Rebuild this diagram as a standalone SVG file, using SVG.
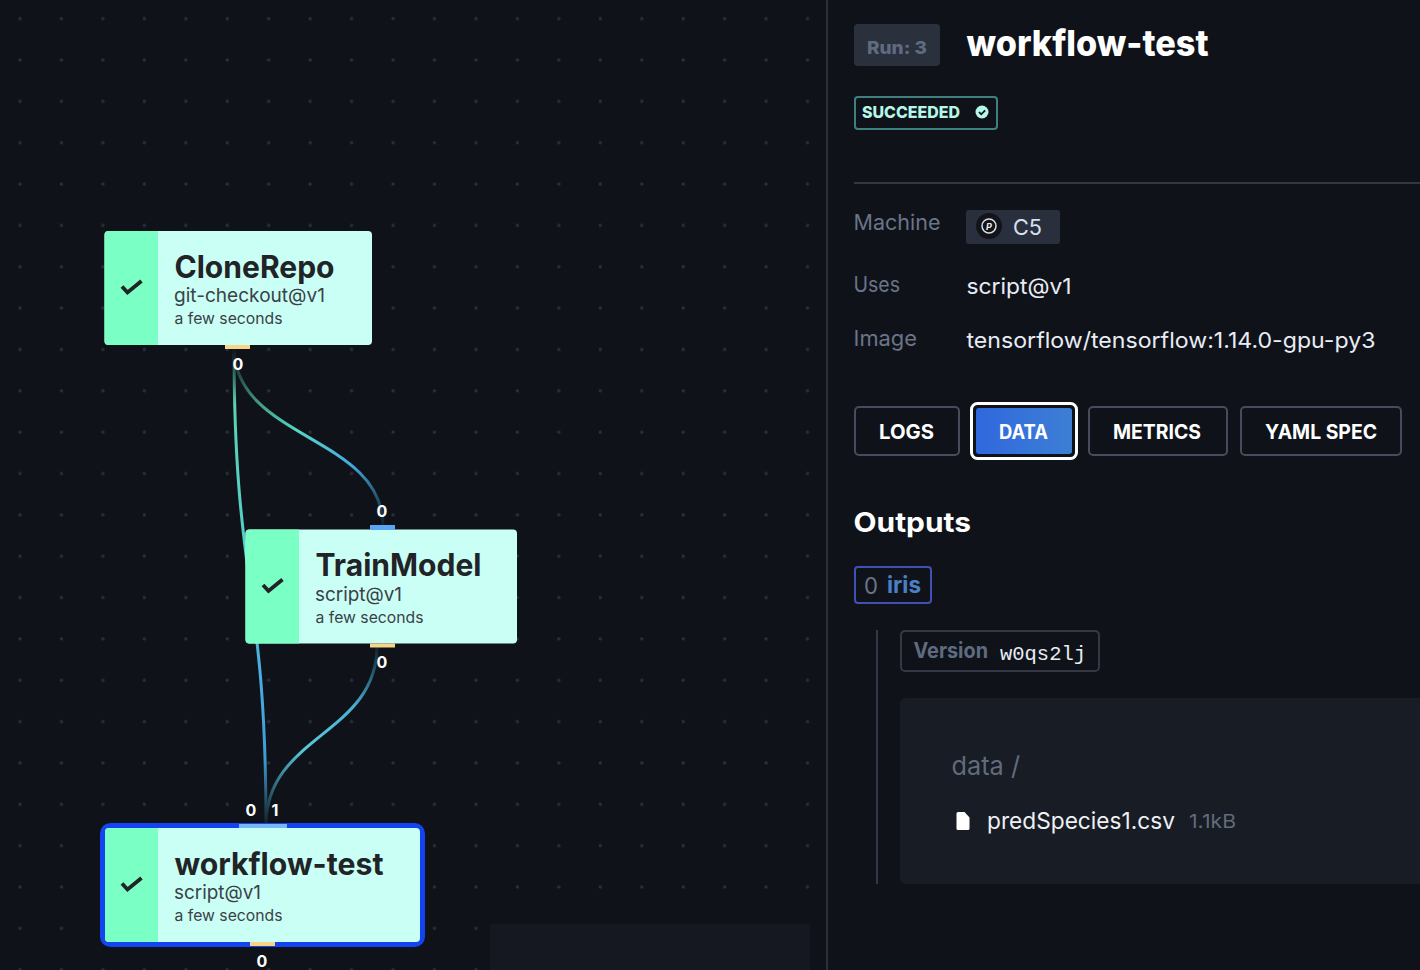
<svg xmlns="http://www.w3.org/2000/svg" width="1420" height="970" viewBox="0 0 1420 970">
<style>
text{font-family:"Inter","Liberation Sans",sans-serif}
.body{fill:#c9fff5}.band{fill:#7affc5}
.name{font-size:31px;font-weight:700;fill:#222326}
.uses{font-size:19px;fill:#3c4148}
.time{font-size:15.5px;fill:#3c4148}
.check{fill:none;stroke:#222326;stroke-width:3.8}
.port{font-size:16px;font-weight:700;fill:#fff;text-anchor:middle}
.out{fill:#f8d488}
.edge{fill:none;stroke-width:3}
.label{font-size:21px;fill:#6b7488}
.value{font-size:22px;fill:#e8ecf4}
.tab{fill:none;stroke:#474c5c;stroke-width:2}
.tabt{font-size:20px;font-weight:700;fill:#fff}
</style>
<defs>
<pattern id="dots" patternUnits="userSpaceOnUse" width="41.45" height="41.35"><circle cx="20" cy="18.7" r="1.6" fill="#2d303d"/></pattern>
<linearGradient id="e1" gradientUnits="userSpaceOnUse" x1="0" y1="347" x2="0" y2="825"><stop offset="0" stop-color="#0f1319"/><stop offset=".12" stop-color="#5ad2b4"/><stop offset=".4" stop-color="#55d0c8"/><stop offset=".7" stop-color="#49abe2"/><stop offset=".86" stop-color="#3f9bd4"/><stop offset="1" stop-color="#10202e"/></linearGradient>
<linearGradient id="e2" gradientUnits="userSpaceOnUse" x1="234" y1="347" x2="382" y2="526"><stop offset="0" stop-color="#0f1319"/><stop offset=".25" stop-color="#3f9a84"/><stop offset=".45" stop-color="#55d6c4"/><stop offset=".72" stop-color="#43a8e0"/><stop offset="1" stop-color="#10202e"/></linearGradient>
<linearGradient id="e3" gradientUnits="userSpaceOnUse" x1="377" y1="646" x2="266" y2="825"><stop offset="0" stop-color="#10202a"/><stop offset=".3" stop-color="#48b0d0"/><stop offset=".6" stop-color="#5ac8dc"/><stop offset="1" stop-color="#10202a"/></linearGradient>
<linearGradient id="blue" x1="0" y1="0" x2="1" y2="0"><stop offset="0" stop-color="#3068de"/><stop offset="1" stop-color="#3d7fd4"/></linearGradient>
</defs>
<rect width="1420" height="970" fill="#0f1319"/>
<rect width="827" height="970" fill="url(#dots)"/>
<rect x="490" y="924" width="320" height="46" fill="#151820"/>
<rect x="826" y="0" width="2" height="970" fill="#2c2f39"/>

<g id="connectors">
<path class="edge" stroke="url(#e1)" d="M234 347C234 586 266 586 266 825"/>
<path class="edge" stroke="url(#e2)" d="M234 347C234 440 383 435 383 526"/>
<path class="edge" stroke="url(#e3)" d="M377 646C377 735 266 735 266 825"/>
</g>

<g id="node-clonerepo">
<rect class="body" x="104.500" y="231" width="267.500" height="114" rx="4"/>
<path class="band" d="M108.500 231H158V345H108.500a4 4 0 0 1-4-4V235a4 4 0 0 1 4-4z"/>
<path class="check" d="M122 286.500l5.500 6 14-11.500"/>
<text class="name" x="174.500" y="278" textLength="160" lengthAdjust="spacingAndGlyphs">CloneRepo</text>
<text class="uses" x="174" y="301.500" textLength="151" lengthAdjust="spacingAndGlyphs">git-checkout@v1</text>
<text class="time" x="174.500" y="324" textLength="108" lengthAdjust="spacingAndGlyphs">a few seconds</text>
<rect class="out" x="225" y="345" width="25" height="4"/>
<text class="port" x="238" y="370">0</text>
</g>

<g id="node-trainmodel">
<rect class="body" x="245.500" y="529.500" width="271.500" height="114" rx="4"/>
<path class="band" d="M249.500 529.500H299V643.500H249.500a4 4 0 0 1-4-4V533.500a4 4 0 0 1 4-4z"/>
<path class="check" d="M263 585l5.500 6 14-11.500"/>
<text class="name" x="315.500" y="576" textLength="166" lengthAdjust="spacingAndGlyphs">TrainModel</text>
<text class="uses" x="315" y="601" textLength="87" lengthAdjust="spacingAndGlyphs">script@v1</text>
<text class="time" x="315.500" y="623" textLength="108" lengthAdjust="spacingAndGlyphs">a few seconds</text>
<rect x="370" y="525" width="25" height="5" fill="#5aa6f0"/>
<text class="port" x="382" y="517">0</text>
<rect class="out" x="370" y="643.500" width="25" height="4"/>
<text class="port" x="382" y="668">0</text>
</g>

<g id="node-workflow-test">
<rect x="102.500" y="825.500" width="320" height="119" rx="8" fill="none" stroke="#1444f2" stroke-width="5"/>
<rect class="body" x="105" y="828" width="315" height="114" rx="4"/>
<path class="band" d="M109 828H158V942H109a4 4 0 0 1-4-4V832a4 4 0 0 1 4-4z"/>
<path class="check" d="M122 883.500l5.500 6 14-11.500"/>
<text class="name" x="174.500" y="875" textLength="209" lengthAdjust="spacingAndGlyphs">workflow-test</text>
<text class="uses" x="174" y="899" textLength="87" lengthAdjust="spacingAndGlyphs">script@v1</text>
<text class="time" x="174.500" y="921" textLength="108" lengthAdjust="spacingAndGlyphs">a few seconds</text>
<rect x="239" y="824" width="48" height="4" fill="#74b8f8"/>
<text class="port" x="251" y="816">0</text>
<text class="port" x="275" y="816">1</text>
<rect class="out" x="250" y="942" width="25" height="4"/>
<text class="port" x="262" y="967">0</text>
</g>

<g id="panel-header">
<rect x="854" y="24" width="86" height="42" rx="4" fill="#2b303d"/>
<text x="867" y="54" font-size="18" font-weight="800" fill="#5f6b80" textLength="60" lengthAdjust="spacingAndGlyphs">Run: 3</text>
<text x="966.500" y="56" font-size="36" font-weight="800" fill="#fff" textLength="242" lengthAdjust="spacingAndGlyphs">workflow-test</text>
<rect x="855" y="97" width="142" height="32" rx="3" fill="none" stroke="#3f7f7f" stroke-width="2"/>
<text x="862" y="118" font-size="16" font-weight="800" fill="#b5f7e8" textLength="98" lengthAdjust="spacingAndGlyphs">SUCCEEDED</text>
<circle cx="982" cy="112" r="6.500" fill="#b5f7e8"/>
<path d="M979 112l2.200 2.300 4-4" fill="none" stroke="#0f1319" stroke-width="1.800"/>
<rect x="854" y="182" width="566" height="2" fill="#333643"/>
</g>

<g id="panel-meta">
<text class="label" x="853.500" y="230" textLength="87" lengthAdjust="spacingAndGlyphs">Machine</text>
<rect x="966" y="210" width="94" height="34" rx="3" fill="#2a2f3d"/>
<circle cx="989" cy="226" r="13" fill="#11141a"/>
<circle cx="989" cy="226" r="7" fill="none" stroke="#ddd" stroke-width="1.500"/>
<text x="989" y="229.500" font-size="9" font-style="italic" font-weight="700" fill="#eee" text-anchor="middle">P</text>
<text x="1013" y="234.500" font-size="22" fill="#d8e0f0" textLength="29" lengthAdjust="spacingAndGlyphs">C5</text>
<text class="label" x="853.500" y="292" textLength="46.500" lengthAdjust="spacingAndGlyphs">Uses</text>
<text class="value" x="966.500" y="294" textLength="105" lengthAdjust="spacingAndGlyphs">script@v1</text>
<text class="label" x="853.500" y="346" textLength="63.500" lengthAdjust="spacingAndGlyphs">Image</text>
<text class="value" x="966.500" y="348" textLength="409" lengthAdjust="spacingAndGlyphs">tensorflow/tensorflow:1.14.0-gpu-py3</text>
</g>

<g id="tabs">
<rect class="tab" x="855" y="407" width="104" height="48" rx="4"/>
<text class="tabt" x="879" y="438.500" textLength="55" lengthAdjust="spacingAndGlyphs">LOGS</text>
<rect x="971.500" y="403.500" width="105" height="55" rx="6" fill="#0f1319" stroke="#fff" stroke-width="3"/>
<rect x="976" y="408" width="96" height="46" rx="3" fill="url(#blue)"/>
<text class="tabt" x="999" y="438.500" textLength="49" lengthAdjust="spacingAndGlyphs">DATA</text>
<rect class="tab" x="1089" y="407" width="138" height="48" rx="4"/>
<text class="tabt" x="1113" y="438.500" textLength="88" lengthAdjust="spacingAndGlyphs">METRICS</text>
<rect class="tab" x="1241" y="407" width="160" height="48" rx="4"/>
<text class="tabt" x="1265" y="438.500" textLength="112" lengthAdjust="spacingAndGlyphs">YAML SPEC</text>
</g>

<g id="outputs">
<text x="853.500" y="532" font-size="27" font-weight="700" fill="#fff" textLength="117.500" lengthAdjust="spacingAndGlyphs">Outputs</text>
<rect x="855" y="567" width="76" height="36" rx="3" fill="none" stroke="#4150b4" stroke-width="2"/>
<text x="864" y="594" font-size="23" fill="#6b7488" textLength="14" lengthAdjust="spacingAndGlyphs">0</text>
<text x="887" y="593" font-size="23" font-weight="700" fill="#4a7fc8" textLength="34" lengthAdjust="spacingAndGlyphs">iris</text>
<rect x="876" y="630" width="2" height="254" fill="#333846"/>
<rect x="901" y="631" width="198" height="40" rx="4" fill="none" stroke="#343845" stroke-width="2"/>
<text x="913.500" y="658" font-size="21" font-weight="700" fill="#5f6b80" textLength="74.500" lengthAdjust="spacingAndGlyphs">Version</text>
<text x="1000" y="660" font-size="20" fill="#e8ecf4" style="font-family:'Liberation Mono','DejaVu Sans Mono',monospace" textLength="86" lengthAdjust="spacingAndGlyphs">w0qs2lj</text>
<path d="M906 698H1420V884H906a6 6 0 0 1-6-6V704a6 6 0 0 1 6-6z" fill="#181c24"/>
<text x="951.500" y="775" font-size="26" fill="#616b7c" textLength="68.500" lengthAdjust="spacingAndGlyphs">data /</text>
<path d="M958 812h6.500l5 5.500v11a1.500 1.500 0 0 1-1.500 1.500h-10a1.500 1.500 0 0 1-1.500-1.500v-15a1.500 1.500 0 0 1 1.500-1.500z" fill="#fff"/>
<text x="987" y="828.500" font-size="23" fill="#eef0f4" textLength="188" lengthAdjust="spacingAndGlyphs">predSpecies1.csv</text>
<text x="1189" y="828" font-size="19" fill="#616b7c" textLength="47" lengthAdjust="spacingAndGlyphs">1.1kB</text>
</g>
</svg>
